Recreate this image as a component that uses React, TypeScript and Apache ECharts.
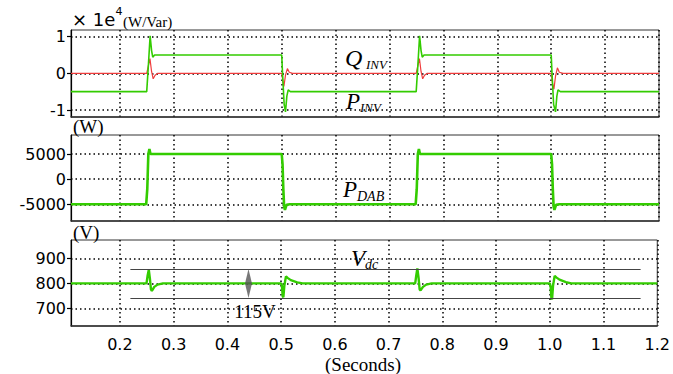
import React, { useEffect, useRef } from "react";
import * as echarts from "echarts";

// ---- data ----
const xTicks = [0.2, 0.3, 0.4, 0.5, 0.6, 0.7, 0.8, 0.9, 1.0, 1.1, 1.2];
const y1Ticks = [-1, 0, 1];
const y2Ticks = [-5000, 0, 5000];
const y3Ticks = [700, 800, 900];

// P_INV (x1e4 W)
const pInv: number[][] = [
  [0.109, -0.5], [0.2495, -0.5], [0.2525, 0.2], [0.2558, 1.02], [0.2585, 0.62], [0.2607, 0.44], [0.264, 0.5],
  [0.5, 0.5], [0.5015, 0.0], [0.5045, -0.85], [0.507, -1.05], [0.5095, -0.62], [0.512, -0.45], [0.516, -0.5],
  [0.7495, -0.5], [0.7525, 0.2], [0.7558, 1.02], [0.7585, 0.62], [0.7607, 0.44], [0.764, 0.5],
  [1.0, 0.5], [1.0015, 0.0], [1.0045, -0.85], [1.008, -1.05], [1.0105, -0.62], [1.0126, -0.45], [1.017, -0.5],
  [1.2, -0.5],
];

// Q_INV (x1e4 Var)
const qInv: number[][] = [
  [0.109, 0], [0.2495, 0], [0.2525, 0.2], [0.2555, 0.4], [0.2585, 0.05], [0.2615, -0.15], [0.265, -0.05], [0.27, 0],
  [0.5, 0], [0.5025, -0.25], [0.504, -0.36], [0.507, -0.05], [0.5105, 0.13], [0.514, 0.03], [0.52, 0],
  [0.7495, 0], [0.7525, 0.2], [0.7555, 0.4], [0.7585, 0.05], [0.7615, -0.15], [0.765, -0.05], [0.77, 0],
  [1.0, 0], [1.0025, -0.28], [1.005, -0.43], [1.008, -0.08], [1.0115, 0.15], [1.015, 0.03], [1.022, 0],
  [1.2, 0],
];

// P_DAB (W)
const pDab: number[][] = [
  [0.109, -5000], [0.2485, -5000], [0.2505, -2000], [0.2525, 5000], [0.2545, 6000], [0.2565, 5000],
  [0.5, 5000], [0.5015, 3000], [0.503, -2000], [0.5045, -5500], [0.506, -6100], [0.509, -5100], [0.515, -5000],
  [0.7485, -5000], [0.7505, -2000], [0.7525, 5000], [0.7545, 6000], [0.7565, 5000],
  [1.0, 5000], [1.0015, 3000], [1.003, -2000], [1.0045, -5500], [1.006, -6100], [1.009, -5100], [1.015, -5000],
  [1.2, -5000],
];

// V_dc (V)
const vdc: number[][] = [
  [0.109, 800], [0.2495, 800], [0.2515, 830], [0.2538, 854], [0.2558, 820], [0.2578, 776], [0.2595, 770], [0.264, 786], [0.27, 795], [0.28, 800],
  [0.5, 800], [0.5015, 790], [0.503, 748], [0.5042, 745], [0.506, 790], [0.509, 828], [0.512, 822], [0.518, 813], [0.53, 804], [0.54, 800],
  [0.7495, 800], [0.7515, 832], [0.7535, 860], [0.7558, 822], [0.7578, 776], [0.7595, 772], [0.764, 786], [0.77, 795], [0.78, 800],
  [1.0, 800], [1.0015, 788], [1.003, 740], [1.0042, 736], [1.006, 790], [1.009, 830], [1.012, 824], [1.018, 815], [1.03, 805], [1.04, 800],
  [1.2, 800],
];

const bandLevels = [857.5, 742.5];
const bandStartX = 0.2195;
const bandEndX = 1.169;
const arrowPoint: number[][] = [[0.4393, 800]];

const GREEN = "#33cc00";
const RED = "#f03c3c";
const SANS = "DejaVu Sans";
const SERIF = "Liberation Serif";

const dotted = { color: "#000", width: 1.5, type: [1.5, 3] as number[] };

function xAxisCfg(gridIndex: number, showLabels: boolean) {
  return {
    type: "value",
    gridIndex,
    min: 0.109,
    max: 1.2,
    axisLine: { show: true, onZero: false, lineStyle: { color: "#333", width: 1.5 } },
    axisTick: { show: false, customValues: xTicks },
    axisLabel: {
      show: showLabels,
      customValues: xTicks,
      color: "#000",
      fontFamily: SANS,
      fontSize: 16,
      margin: 10,
      formatter: (v: number) => v.toFixed(1),
    },
    splitLine: { show: true, lineStyle: dotted },
  };
}

function yAxisCfg(gridIndex: number, min: number, max: number, ticks: number[]) {
  return {
    type: "value",
    gridIndex,
    min,
    max,
    axisLine: { show: true, lineStyle: { color: "#000", width: 1.2 } },
    axisTick: { show: true, length: 4, customValues: ticks, lineStyle: { color: "#000", width: 1.2 } },
    axisLabel: {
      customValues: ticks,
      color: "#000",
      fontFamily: SANS,
      fontSize: 16,
      margin: 5,
      formatter: (v: number) => String(v),
    },
    splitLine: { show: true, lineStyle: dotted },
  };
}

function txt(x: number, y: number, text: string, size: number, family: string, italic = false, align = "left") {
  return {
    type: "text",
    x,
    y,
    z: 100,
    style: {
      text,
      fontSize: size,
      fontFamily: family,
      fontStyle: italic ? "italic" : "normal",
      fill: "#000",
      align,
      verticalAlign: "middle",
    },
  };
}

export default function App() {
  const ref = useRef<HTMLDivElement>(null);
  useEffect(() => {
    if (!ref.current) return;
    const chart = echarts.init(ref.current, undefined, { renderer: "svg" });
    const gridBase = { left: 71, width: 588, height: 86, show: true, borderColor: "#333", borderWidth: 1 };
    chart.setOption({
      animation: false,
      grid: [
        { ...gridBase, top: 30, height: 87 },
        { ...gridBase, top: 135 },
        { ...gridBase, top: 240 },
      ],
      xAxis: [xAxisCfg(0, false), xAxisCfg(1, false), xAxisCfg(2, true)],
      yAxis: [
        yAxisCfg(0, -1.19, 1.18, y1Ticks),
        yAxisCfg(1, -8320, 8780, y2Ticks),
        yAxisCfg(2, 630, 973, y3Ticks),
      ],
      series: [
        {
          type: "line", xAxisIndex: 0, yAxisIndex: 0, data: qInv, showSymbol: false,
          lineStyle: { color: RED, width: 1.2 }, z: 3,
        },
        {
          type: "line", xAxisIndex: 0, yAxisIndex: 0, data: pInv, showSymbol: false,
          lineStyle: { color: GREEN, width: 1.6 }, z: 4,
        },
        {
          type: "line", xAxisIndex: 1, yAxisIndex: 1, data: pDab, showSymbol: false,
          lineStyle: { color: GREEN, width: 2.6 }, z: 4,
        },
        {
          type: "line", xAxisIndex: 2, yAxisIndex: 2, data: vdc, showSymbol: false,
          lineStyle: { color: GREEN, width: 2.4 }, z: 4,
          markLine: {
            silent: true,
            symbol: ["none", "none"],
            label: { show: false },
            lineStyle: { color: "#444", width: 1, type: "solid" },
            data: bandLevels.map((lv) => [
              { coord: [bandStartX, lv] },
              { coord: [bandEndX, lv] },
            ]),
          },
        },
        {
          type: "scatter", xAxisIndex: 2, yAxisIndex: 2, data: arrowPoint,
          symbol: "diamond", symbolSize: [7, 29],
          itemStyle: { color: "#555" }, z: 5, silent: true,
        },
      ],
      graphic: [
        txt(72, 19, "× 1e", 18, SANS),
        txt(115.5, 11, "4", 11, SANS),
        txt(123, 22, "(W/Var)", 15, SERIF),
        txt(73, 126, "(W)", 19, SERIF),
        txt(73, 232, "(V)", 19, SERIF),
        txt(345, 58, "Q", 24, SERIF, true),
        txt(366, 64, "INV", 13, SERIF, true),
        txt(346, 101, "P", 23, SERIF, true),
        txt(360, 107, "INV", 13, SERIF, true),
        txt(343, 189, "P", 23, SERIF, true),
        txt(357, 196, "DAB", 14, SERIF, true),
        txt(351, 258, "V", 23, SERIF, true),
        txt(365, 264, "dc", 14, SERIF, true),
        txt(255, 311, "115V", 19, SERIF, false, "center"),
        txt(363, 364, "(Seconds)", 19, SERIF, false, "center"),
      ],
    });
    return () => chart.dispose();
  }, []);
  return (
    <div
      ref={ref}
      style={{ position: "absolute", left: 0, top: 0, width: 673, height: 374 }}
    />
  );
}
